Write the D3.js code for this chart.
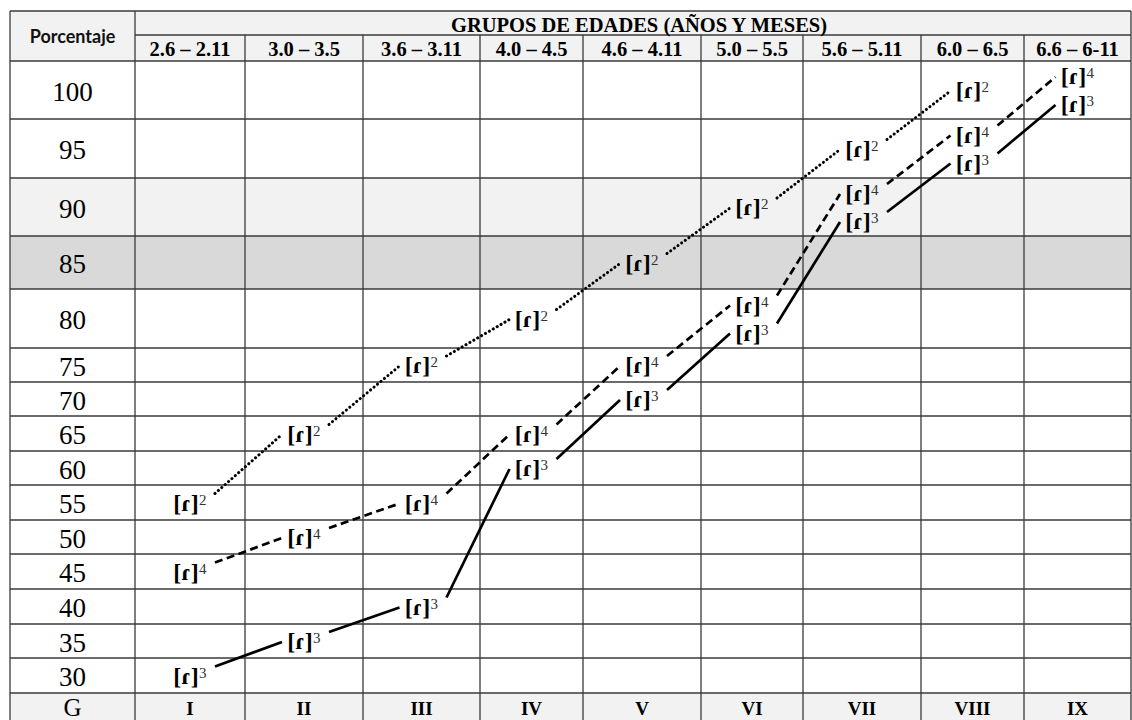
<!DOCTYPE html>
<html><head><meta charset="utf-8">
<script src="https://cdn.jsdelivr.net/npm/d3@7"></script>
<style>body{margin:0;background:#fff}</style>
</head><body><svg id="c" width="1132" height="720"></svg>
<script>
// ---- data ----
const title = "GRUPOS DE EDADES (AÑOS Y MESES)";
const rowHeader = "Porcentaje";
const ageGroups = ["2.6 – 2.11", "3.0 – 3.5", "3.6 – 3.11", "4.0 – 4.5", "4.6 – 4.11", "5.0 – 5.5", "5.6 – 5.11", "6.0 – 6.5", "6.6 – 6-11"];
const groupCodes = ["I", "II", "III", "IV", "V", "VI", "VII", "VIII", "IX"];
const groupLabel = "G";
const percentages = [100, 95, 90, 85, 80, 75, 70, 65, 60, 55, 50, 45, 40, 35, 30];
const seriesR2 = [55, 65, 75, 80, 85, 90, 95, 100, null];
const seriesR4 = [45, 50, 55, 65, 75, 80, 90, 95, 100];
const seriesR3 = [30, 35, 40, 60, 70, 80, 90, 95, 100];
const seriesKeys = ["2", "4", "3"];
const phone = "[ɾ]";

// ---- layout ----
const W = 1132, H = 720;
const tLeft = 10, tTop = 11, headerMid = 35, tRight = 1131;
const colEdges = [135, 245, 363, 480, 583, 701, 803, 921, 1024, 1131];
const rowEdges = [61, 119, 178, 236, 289, 348, 382, 416, 451, 485, 520, 554, 589, 624, 658, 693];
const lightFill = "#f2f2f2", darkFill = "#d9d9d9";
const rowFills = new Map([[90, lightFill], [85, darkFill]]);
const gridColor = "#3a3a3a";
const serif = "'Liberation Serif','Times New Roman','DejaVu Serif',serif";

const svg = d3.select("#c");
const x = d3.scaleLinear().domain(d3.range(colEdges.length)).range(colEdges);
const step = percentages[0] - percentages[1];
const yDomain = rowEdges.map((_, i) => percentages[0] + step / 2 - step * i);
const y = d3.scaleLinear().domain(yDomain).range(rowEdges);

// backgrounds
svg.append("rect").attr("x", tLeft).attr("y", tTop).attr("width", tRight - tLeft).attr("height", rowEdges[0] - tTop).attr("fill", lightFill);
svg.append("rect").attr("x", tLeft).attr("y", rowEdges[rowEdges.length - 1]).attr("width", tRight - tLeft).attr("height", H - rowEdges[rowEdges.length - 1]).attr("fill", lightFill);
svg.selectAll("rect.row").data(percentages.filter(p => rowFills.has(p))).join("rect")
  .attr("x", tLeft).attr("y", p => y(p + step / 2)).attr("width", tRight - tLeft)
  .attr("height", p => y(p - step / 2) - y(p + step / 2)).attr("fill", p => rowFills.get(p));

// grid
const g = svg.append("g").attr("stroke", gridColor).attr("stroke-width", 1.3);
g.append("line").attr("x1", tLeft).attr("x2", tRight).attr("y1", tTop).attr("y2", tTop);
g.append("line").attr("x1", colEdges[0]).attr("x2", tRight).attr("y1", headerMid).attr("y2", headerMid);
g.selectAll("line.h").data(rowEdges).join("line").attr("x1", tLeft).attr("x2", tRight).attr("y1", d => d).attr("y2", d => d);
g.append("line").attr("x1", tLeft).attr("x2", tLeft).attr("y1", tTop).attr("y2", H);
g.append("line").attr("x1", colEdges[0]).attr("x2", colEdges[0]).attr("y1", tTop).attr("y2", H);
g.append("line").attr("x1", tRight).attr("x2", tRight).attr("y1", tTop).attr("y2", H);
g.selectAll("line.v").data(colEdges.slice(1, -1)).join("line").attr("x1", d => d).attr("x2", d => d).attr("y1", headerMid).attr("y2", H);

// header texts
svg.append("text").attr("x", (tLeft + colEdges[0]) / 2).attr("y", 43).attr("text-anchor", "middle")
  .attr("font-family", "Lato,'Open Sans',sans-serif").attr("font-weight", "bold").attr("font-size", 18).attr("fill", "#111").text(rowHeader);
svg.append("text").attr("x", (colEdges[0] + tRight) / 2 + 6).attr("y", 31.5).attr("text-anchor", "middle")
  .attr("font-family", serif).attr("font-weight", "bold").attr("font-size", 20.5).attr("fill", "#000").text(title);
svg.selectAll("text.age").data(ageGroups).join("text")
  .attr("x", (d, i) => x(i + 0.5)).attr("y", 56).attr("text-anchor", "middle")
  .attr("font-family", serif).attr("font-weight", "bold").attr("font-size", 20.5).attr("fill", "#000").text(d => d);

// percentage row labels
svg.selectAll("text.pct").data(percentages).join("text")
  .attr("x", (tLeft + colEdges[0]) / 2).attr("y", p => y(p) + 10.5).attr("text-anchor", "middle")
  .attr("font-family", serif).attr("font-size", 27).attr("fill", "#000").text(p => p);

// G row
const gBase = 716;
svg.append("text").attr("x", (tLeft + colEdges[0]) / 2).attr("y", gBase).attr("text-anchor", "middle")
  .attr("font-family", serif).attr("font-size", 25).attr("fill", "#000").text(groupLabel);
svg.selectAll("text.code").data(groupCodes).join("text")
  .attr("x", (d, i) => x(i + 0.5)).attr("y", gBase - 1).attr("text-anchor", "middle")
  .attr("font-family", serif).attr("font-weight", "bold").attr("font-size", 19).attr("fill", "#000").text(d => d);

// series
const seriesValues = [seriesR2, seriesR4, seriesR3];
const styles = {
  "2": {dash: "0.1,4.4", cap: "round", width: 3},
  "4": {dash: "8,4.5", cap: "butt", width: 2.7},
  "3": {dash: null, cap: "butt", width: 2.7}
};
const series = seriesKeys.map((k, si) => {
  const vals = seriesValues[si];
  const pts = [];
  vals.forEach((v, i) => {
    if (v == null) return;
    let dy = 0;
    if (k === "4" && seriesR3[i] === v) dy = -14;
    if (k === "3" && seriesR4[i] === v) dy = 14;
    pts.push({i, v, cx: x(i + 0.5), cy: y(v) + dy});
  });
  return {k, pts};
});

const line = d3.line();
series.forEach(s => {
  const st = styles[s.k];
  const segs = d3.pairs(s.pts).map(([a, b]) => [[a.cx + 25, a.cy - 9], [b.cx - 22, b.cy + 1]]);
  svg.append("g").selectAll("path").data(segs).join("path")
    .attr("d", line).attr("fill", "none").attr("stroke", "#000")
    .attr("stroke-width", st.width).attr("stroke-linecap", st.cap)
    .attr("stroke-dasharray", st.dash);
  const lg = svg.append("g").selectAll("g").data(s.pts).join("g");
  lg.append("text").attr("x", d => d.cx - 4).attr("y", d => d.cy + 8).attr("text-anchor", "middle")
    .attr("font-family", serif).attr("font-weight", "bold").attr("font-size", 24).attr("fill", "#000").text(phone);
  lg.append("text").attr("x", d => d.cx + 9).attr("y", d => d.cy + 2)
    .attr("font-family", serif).attr("font-size", 15).attr("fill", "#333").text(s.k);
});
</script></body></html>
